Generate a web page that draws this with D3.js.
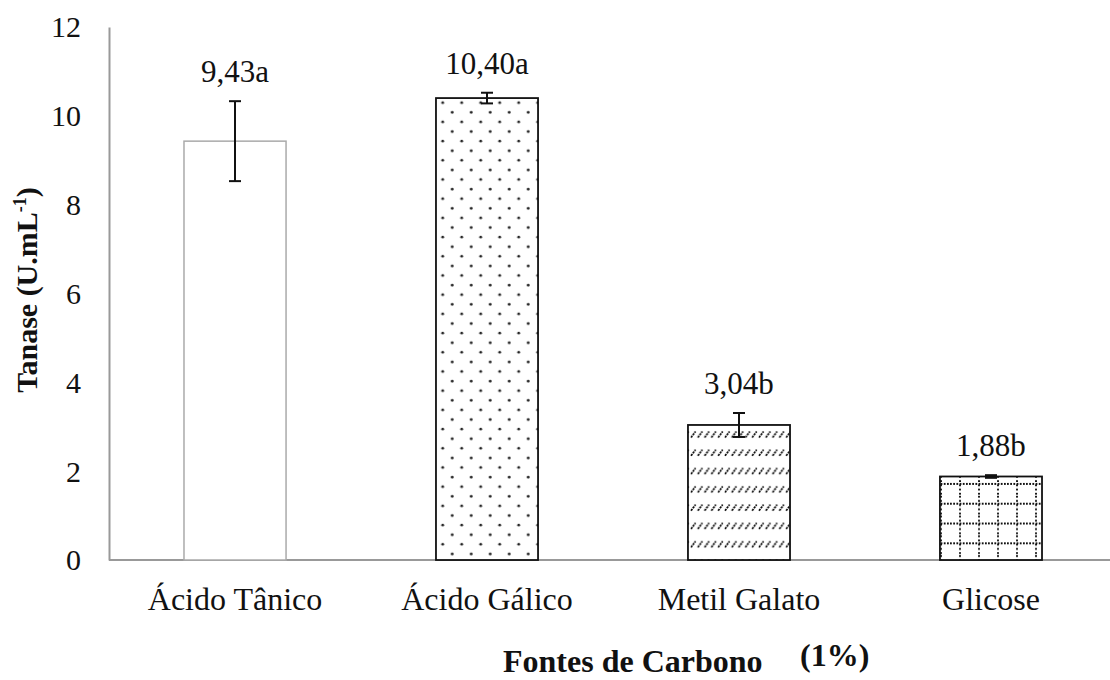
<!DOCTYPE html>
<html><head><meta charset="utf-8">
<script src="https://cdn.jsdelivr.net/npm/d3@7"></script>
<style>body{margin:0;background:#fff}svg{display:block}text{font-family:"Liberation Serif","DejaVu Serif",serif;fill:#111}</style>
</head><body><svg id="c" width="1110" height="680"></svg>
<script>
const categories = ["Ácido Tânico", "Ácido Gálico", "Metil Galato", "Glicose"];
const values = [9.43, 10.40, 3.04, 1.88];
const errors = [0.90, 0.12, 0.27, 0.03];
const labels = ["9,43a", "10,40a", "3,04b", "1,88b"];
const patterns = ["none", "dots", "hatch", "grid"];
const yTicks = [0, 2, 4, 6, 8, 10, 12];

const FONT = "'Liberation Serif','DejaVu Serif',serif";
const svg = d3.select("#c");
const y = d3.scaleLinear().domain([0, 12]).range([560, 27]);
const x = d3.scaleBand().domain(categories).range([109, 1117]).paddingInner(0.595).paddingOuter(0.2976);

const defs = svg.append("defs");
// dots
const pd = defs.append("pattern").attr("id", "dots").attr("patternUnits", "userSpaceOnUse")
  .attr("width", 19).attr("height", 19.2).attr("x", 442.7 - 4).attr("y", 102.7 - 4);
pd.append("rect").attr("width", 19).attr("height", 19.2).attr("fill", "#fff");
pd.append("circle").attr("cx", 4).attr("cy", 4).attr("r", 1.4).attr("fill", "#222");
pd.append("circle").attr("cx", 13.5).attr("cy", 13.6).attr("r", 1.4).attr("fill", "#222");
// hatch
const ph = defs.append("pattern").attr("id", "hatch").attr("patternUnits", "userSpaceOnUse")
  .attr("width", 6.8).attr("height", 18.3).attr("x", 690).attr("y", 430);
ph.append("rect").attr("width", 6.8).attr("height", 18.3).attr("fill", "#fff");
ph.append("line").attr("x1", 1).attr("y1", 7.5).attr("x2", 5.5).attr("y2", 1.5)
  .attr("stroke", "#000").attr("stroke-width", 1.7).attr("stroke-dasharray", "2.2,0.8");
// grid
const pg = defs.append("pattern").attr("id", "grid").attr("patternUnits", "userSpaceOnUse")
  .attr("width", 19).attr("height", 19.8).attr("x", 960 - 10).attr("y", 484 - 8);
pg.append("rect").attr("width", 19).attr("height", 19.8).attr("fill", "#fff");
pg.append("line").attr("x1", 0).attr("y1", 8).attr("x2", 19).attr("y2", 8)
  .attr("stroke", "#111").attr("stroke-width", 2).attr("stroke-dasharray", "1.8,1.4");
pg.append("line").attr("x1", 10).attr("y1", 0).attr("x2", 10).attr("y2", 19.8)
  .attr("stroke", "#111").attr("stroke-width", 2).attr("stroke-dasharray", "1.8,2.4");

// axes
const yAxis = svg.append("g").attr("transform", "translate(109,0)")
  .call(d3.axisLeft(y).tickValues(yTicks).tickSize(0).tickPadding(28).tickFormat(d3.format("d")));
yAxis.select(".domain").attr("stroke", "#999").attr("stroke-width", 2);
yAxis.selectAll("text").style("font-size", "30px").attr("fill", "#111").attr("dy", "0.33em")
  .style("font-family", FONT);

const xAxis = svg.append("g").attr("transform", "translate(0,560)")
  .call(d3.axisBottom(x).tickSize(0).tickPadding(27));
xAxis.select(".domain").attr("d", "M109,0H1110").attr("stroke", "#999").attr("stroke-width", 2.2);
xAxis.selectAll("text").style("font-size", "32px").attr("fill", "#111")
  .style("font-family", FONT);

// bars
const data = categories.map((c, i) => ({c, v: values[i], e: errors[i], l: labels[i], p: patterns[i]}));
svg.append("g").selectAll("rect").data(data).join("rect")
  .attr("x", d => x(d.c)).attr("width", x.bandwidth())
  .attr("y", d => y(d.v)).attr("height", d => y(0) - y(d.v))
  .attr("fill", d => d.p === "none" ? "#fff" : `url(#${d.p})`)
  .attr("stroke", d => d.p === "none" ? "#aaa" : "#111")
  .attr("stroke-width", d => d.p === "none" ? 1.5 : 1.8);

// error bars
const eg = svg.append("g").attr("stroke", "#111").attr("stroke-width", 2);
data.forEach(d => {
  const cx = x(d.c) + x.bandwidth() / 2;
  eg.append("line").attr("x1", cx).attr("x2", cx).attr("y1", y(d.v + d.e)).attr("y2", y(d.v - d.e));
  eg.append("line").attr("x1", cx - 6).attr("x2", cx + 6).attr("y1", y(d.v + d.e)).attr("y2", y(d.v + d.e));
  eg.append("line").attr("x1", cx - 6).attr("x2", cx + 6).attr("y1", y(d.v - d.e)).attr("y2", y(d.v - d.e));
});

// value labels
svg.append("g").selectAll("text").data(data).join("text")
  .attr("x", d => x(d.c) + x.bandwidth() / 2)
  .attr("y", d => y(d.v + d.e) - 19)
  .attr("text-anchor", "middle").style("font-size", "31px").text(d => d.l);

// titles
const yt = svg.append("text").attr("transform", "translate(37,290) rotate(-90)").attr("text-anchor", "middle")
  .style("font-size", "30px").style("font-weight", "bold");
yt.append("tspan").text("Tanase (U.mL");
yt.append("tspan").attr("dy", -11).style("font-size", "18px").text("-1");
yt.append("tspan").attr("dy", 11).text(")");

svg.append("text").attr("x", 503).attr("y", 672).style("font-size", "32px").style("font-weight", "bold")
  .text("Fontes de Carbono");
svg.append("text").attr("x", 800).attr("y", 666).style("font-size", "32px").style("font-weight", "bold")
  .text("(1%)");
</script></body></html>
